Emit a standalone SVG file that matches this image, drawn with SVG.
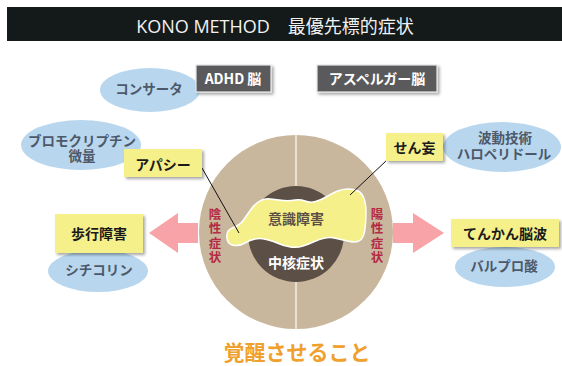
<svg xmlns="http://www.w3.org/2000/svg" width="562" height="366" viewBox="0 0 562 366">
<defs>
<filter id="sh" x="-20%" y="-20%" width="150%" height="160%">
<feDropShadow dx="2" dy="2" stdDeviation="1.5" flood-color="#000" flood-opacity="0.35"/>
</filter>
</defs>
<style>
.jp{font-family:"Noto Sans CJK JP","Noto Sans",sans-serif;}
.yb{fill:#f6f08a;filter:url(#sh);}
.yt{font-size:14px;font-weight:700;fill:#1a1a1a;text-anchor:middle;}
.gb{fill:#5a5a5c;stroke:#e8e8e8;stroke-width:1.2;filter:url(#sh);}
.gt{font-size:14px;font-weight:700;fill:#ffffff;text-anchor:middle;}
.el{fill:#b8d7ee;}
.et{font-size:13.5px;font-weight:700;fill:#4d586a;text-anchor:middle;}
.vt{font-size:12.5px;font-weight:700;fill:#b52a42;text-anchor:middle;}
.arr{fill:#f7a3a8;}
.con{stroke:#111;stroke-width:1;fill:none;}
</style>
<rect x="7" y="7" width="555" height="34" fill="#141a1a"/>
<text x="275" y="33" font-family="'Open Sans','Noto Sans CJK JP',sans-serif" font-size="18" fill="#f2f2f2" text-anchor="middle">KONO METHOD　最優先標的症状</text>

<g id="circle">
<circle cx="296" cy="232" r="97" fill="#c9b79d"/>
<line x1="296" y1="135" x2="296" y2="329" stroke="#f1ece2" stroke-width="1.5"/>
<circle cx="296" cy="234" r="48" fill="#5c4f46"/>
<path d="M227.5,232.5 Q229,229 234.5,227 Q240,225 243.5,220 Q247,215 250.5,210 Q254,205 259,201.5 Q264,198 270.5,199 Q277,200 283.5,200.5 Q290,201 295,200 Q300,199 305,201 Q310,203 315.5,201.5 Q321,200 326,197 Q331,194 336.5,191.5 Q342,189 348,189 Q354,189 358,191 Q362,193 364,198.5 Q366,204 366,212.5 Q366,221 365,229 Q364,237 360.5,240 Q357,243 350,241.5 Q343,240 336.5,238.5 Q330,237 325,238 Q320,239 314.5,241.5 Q309,244 303,246 Q297,248 290.5,247 Q284,246 278.5,243.5 Q273,241 266.5,239.5 Q260,238 255,239 Q250,240 245,243 Q240,246 234.5,245.5 Q229,245 227.5,240.5 Q226,236 227.5,232.5 Z" fill="#f6f08a" stroke="#ffffff" stroke-width="1.5"/>
<text class="jp" x="296" y="224" font-size="14" font-weight="700" fill="#5c4f46" text-anchor="middle">意識障害</text>
<text class="jp" x="296" y="268" font-size="14" font-weight="700" fill="#ffffff" text-anchor="middle">中核症状</text>
<text class="jp vt"><tspan x="215" y="218.5">陰</tspan><tspan x="215" y="233">性</tspan><tspan x="215" y="247.5">症</tspan><tspan x="215" y="262">状</tspan></text>
<text class="jp vt"><tspan x="377" y="218.5">陽</tspan><tspan x="377" y="233">性</tspan><tspan x="377" y="247.5">症</tspan><tspan x="377" y="262">状</tspan></text>
</g>

<g id="arrows">
<polygon class="arr" points="198,223 178,223 178,213 149,233 178,253 178,243 198,243"/>
<polygon class="arr" points="393,223 413,223 413,213 444,233 413,253 413,243 393,243"/>
</g>

<g id="connectors">
<line class="con" x1="202" y1="168" x2="239" y2="233"/>
<line class="con" x1="387" y1="160" x2="350" y2="195"/>
</g>

<g id="concerta">
<ellipse class="el" cx="150" cy="90" rx="50" ry="22"/>
<text class="jp et" x="149" y="94">コンサータ</text>
</g>
<g id="bromo">
<ellipse class="el" cx="81" cy="145" rx="60" ry="25"/>
<text class="jp et"><tspan x="82" y="146">ブロモクリプチン</tspan><tspan x="82" y="161">微量</tspan></text>
</g>
<g id="hado">
<ellipse class="el" cx="502" cy="147" rx="59" ry="25"/>
<text class="jp et"><tspan x="505" y="143">波動技術</tspan><tspan x="504" y="159">ハロペリドール</tspan></text>
</g>
<g id="citicoline">
<ellipse class="el" cx="98" cy="271" rx="50" ry="21"/>
<text class="jp et" x="99" y="275">シチコリン</text>
</g>
<g id="valpro">
<ellipse class="el" cx="505" cy="267" rx="50" ry="20"/>
<text class="jp et" x="504" y="271">バルプロ酸</text>
</g>

<g id="adhd">
<rect class="gb" x="196" y="65" width="75" height="27"/>
<text class="jp gt" x="233" y="84">ADHD 脳</text>
</g>
<g id="asperger">
<rect class="gb" x="317" y="65" width="120" height="27"/>
<text class="jp gt" x="377" y="84">アスペルガー脳</text>
</g>

<g id="apathy">
<rect class="yb" x="124" y="149" width="78" height="28"/>
<text class="jp yt" x="163" y="170">アパシー</text>
</g>
<g id="senmou">
<rect class="yb" x="386" y="133" width="57" height="28"/>
<text class="jp yt" x="414.5" y="153">せん妄</text>
</g>
<g id="gait">
<rect class="yb" x="55" y="214" width="88" height="39"/>
<text class="jp yt" x="99" y="239">歩行障害</text>
</g>
<g id="epilepsy">
<rect class="yb" x="451" y="219" width="108" height="28"/>
<text class="jp yt" x="505" y="239">てんかん脳波</text>
</g>

<text class="jp" x="297" y="360" font-size="21" font-weight="700" fill="#f0a02c" text-anchor="middle">覚醒させること</text>
</svg>
